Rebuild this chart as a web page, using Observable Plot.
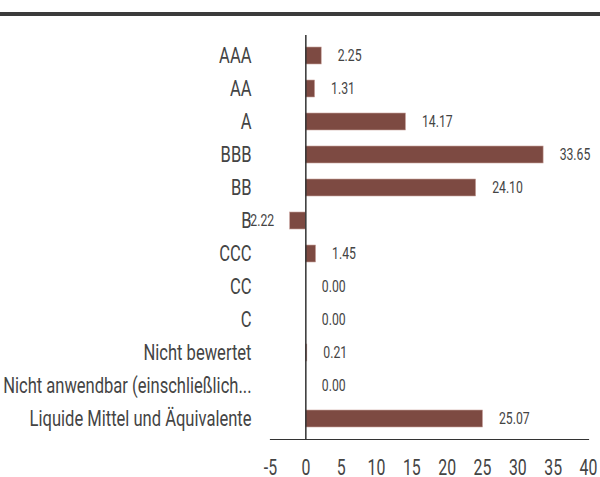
<!DOCTYPE html>
<html>
<head>
<meta charset="utf-8">
<script src="https://cdn.jsdelivr.net/npm/d3@7"></script>
<script src="https://cdn.jsdelivr.net/npm/@observablehq/plot@0.6"></script>
<style>
  html, body { margin: 0; padding: 0; background: #fff; }
  #topbar { height: 12px; border-bottom: 4px solid #3b3b3b; }
  #chart svg { display: block; }
</style>
</head>
<body>
<div id="topbar"></div>
<div id="chart"></div>
<script>
const categories = ["AAA", "AA", "A", "BBB", "BB", "B", "CCC", "CC", "C", "Nicht bewertet", "Nicht anwendbar (einschließlich...", "Liquide Mittel und Äquivalente"];
const values = [2.25, 1.31, 14.17, 33.65, 24.10, -2.22, 1.45, 0.00, 0.00, 0.21, 0.00, 25.07];
const xTicks = [-5, 0, 5, 10, 15, 20, 25, 30, 35, 40];

const data = categories.map((c, i) => ({category: c, value: values[i]}));

const chart = Plot.plot({
  width: 600,
  height: 461,
  marginTop: 19,
  marginBottom: 38,
  marginLeft: 270,
  marginRight: 12,
  style: {fontFamily: "Roboto, 'DejaVu Sans', sans-serif", color: "#444", background: "#fff"},
  x: {domain: [-5, 40], ticks: xTicks, label: null},
  y: {domain: categories, paddingInner: 0.5, paddingOuter: 0.25, label: null},
  marks: [
    Plot.barX(data, {x: "value", y: "category", fill: "#7d4a42", stroke: "#c9a39d", strokeWidth: 0.6}),
    Plot.ruleX([0], {stroke: "#333", strokeWidth: 1.5}),
    Plot.frame({anchor: "bottom", stroke: "#333", strokeWidth: 1.2}),
    Plot.text(data.filter(d => d.value >= 0), {x: "value", y: "category", text: d => d.value.toFixed(2), dx: 16, textAnchor: "start", fontSize: 17, fill: "#444"}),
    Plot.text(data.filter(d => d.value < 0), {x: "value", y: "category", text: d => d.value.toFixed(2), dx: -16, textAnchor: "end", fontSize: 17, fill: "#444"}),
    Plot.axisY({tickSize: 0, tickPadding: 19, fontSize: 21.5, fill: "#444", label: null}),
    Plot.axisX({ticks: xTicks, tickFormat: d => String(d), tickSize: 0, tickPadding: 20, fontSize: 22, fill: "#444", label: null})
  ]
});

// condense every text horizontally around its anchor point (narrow typeface look)
chart.querySelectorAll("text").forEach(t => {
  const s = t.closest('[aria-label="y-axis tick label"]') ? 0.77 : 0.72;
  const xa = t.getAttribute("x");
  const numeric = xa != null && /^-?[\d.]+$/.test(xa);
  const x = numeric ? +xa : 0;
  if (numeric) t.removeAttribute("x");
  const dx = t.getAttribute("dx");
  if (dx != null && /^-?[\d.]+$/.test(dx)) t.setAttribute("dx", +dx / s);
  const tr = t.getAttribute("transform") || "";
  t.setAttribute("transform", `${tr} translate(${x},0) scale(${s},1)`);
});

document.getElementById("chart").appendChild(chart);
</script>
</body>
</html>
